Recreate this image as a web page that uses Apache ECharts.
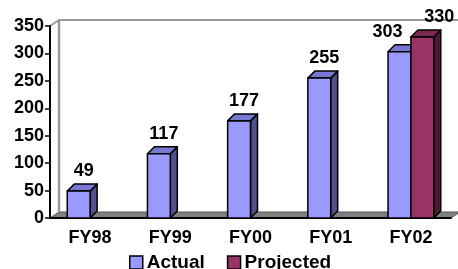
<!DOCTYPE html>
<html>
<head>
<meta charset="utf-8">
<script src="https://cdn.jsdelivr.net/npm/echarts@6/dist/echarts.min.js"></script>
<style>
  html, body { margin: 0; padding: 0; background: #fff; }
  #chart { width: 458px; height: 269px; }
</style>
</head>
<body>
<div id="chart"></div>
<script>
// === Data
const categories = ['FY98', 'FY99', 'FY00', 'FY01', 'FY02'];
const actualValues = [49, 117, 177, 255, 303];
const projectedValues = [null, null, null, null, 330];
const yTicks = { min: 0, max: 350, interval: 50 };

const FONT = 'Liberation Sans, Arial, sans-serif';
const DX = 7, DY = -7;       // bar depth
const WX = 9, WY = -6;       // wall depth

const colors = {
    Actual: { front: '#9999FF', side: '#50508C', top: '#7878D2' },
    Projected: { front: '#993366', side: '#4C1A33', top: '#7A2952' }
};

function toPairs(values) {
    return values
        .map((v, i) => (v == null ? null : [i, v]))
        .filter(Boolean);
}

// 3D-looking bar drawn from the axis scale
function makeBarRenderer(name, slot) {
    const c = colors[name];
    return function (params, api) {
        const idx = api.value(0);
        const val = api.value(1);
        const top = api.coord([idx, val]);
        const base = api.coord([idx, 0]);
        const band = api.size([1, 0])[0];
        const w = band * 0.285;
        const x0 = slot === 0 ? top[0] - w : top[0];
        const x1 = x0 + w;
        const yt = top[1];
        const yb = base[1];
        const stroke = { stroke: '#000', lineWidth: 1.5, lineJoin: 'round' };

        const both = actualValues[idx] != null && projectedValues[idx] != null;
        let lx = (x0 + x1) / 2 + 5;
        if (both) lx = slot === 0 ? (x0 + x1) / 2 - 12 : (x0 + x1) / 2 + 17;

        return {
            type: 'group',
            children: [
                {
                    type: 'polygon',
                    shape: { points: [[x1, yb], [x1 + DX, yb + DY], [x1 + DX, yt + DY], [x1, yt]] },
                    style: Object.assign({ fill: c.side }, stroke)
                },
                {
                    type: 'polygon',
                    shape: { points: [[x0, yt], [x0 + DX, yt + DY], [x1 + DX, yt + DY], [x1, yt]] },
                    style: Object.assign({ fill: c.top }, stroke)
                },
                {
                    type: 'rect',
                    shape: { x: x0, y: yt, width: w, height: yb - yt },
                    style: Object.assign({ fill: c.front }, stroke)
                },
                {
                    type: 'text',
                    style: {
                        x: lx, y: yt + DY - 13,
                        text: String(val),
                        fill: '#000',
                        font: 'bold 18px ' + FONT,
                        align: 'center',
                        verticalAlign: 'middle'
                    }
                }
            ]
        };
    };
}

// back wall and floor
function renderWalls(params) {
    const cs = params.coordSys;
    const x = cs.x, y = cs.y, w = cs.width, h = cs.height;
    return {
        type: 'group',
        children: [
            {
                type: 'polygon',
                shape: { points: [[x, y + h], [x + w, y + h], [x + w + WX, y + h + WY], [x + WX, y + h + WY]] },
                style: { fill: '#808080', stroke: '#555', lineWidth: 1 }
            },
            {
                type: 'polyline',
                shape: { points: [[x, y], [x + WX, y + WY], [x + w + WX, y + WY]] },
                style: { fill: null, stroke: '#999', lineWidth: 2 }
            },
            {
                type: 'line',
                shape: { x1: x + WX, y1: y + WY, x2: x + WX, y2: y + h + WY },
                style: { stroke: '#999', lineWidth: 2.5 }
            }
        ]
    };
}

const chart = echarts.init(document.getElementById('chart'), null, { renderer: 'canvas' });

chart.setOption({
    animation: false,
    grid: { left: 50, right: 7, top: 26, bottom: 51 },
    legend: {
        data: ['Actual', 'Projected'],
        left: 124,
        top: 248,
        icon: 'rect',
        itemWidth: 13,
        itemHeight: 13,
        itemGap: 22,
        itemStyle: { borderColor: '#000', borderWidth: 1.5 },
        textStyle: { fontFamily: FONT, fontWeight: 'bold', fontSize: 19, color: '#000', padding: [0, 0, 0, -1] }
    },
    xAxis: {
        type: 'category',
        data: categories,
        axisLine: { lineStyle: { color: '#000', width: 2 } },
        axisTick: { length: 5, lineStyle: { color: '#000', width: 1.5 } },
        axisLabel: { margin: 11, color: '#000', fontFamily: FONT, fontWeight: 'bold', fontSize: 18 }
    },
    yAxis: {
        type: 'value',
        min: yTicks.min,
        max: yTicks.max,
        interval: yTicks.interval,
        axisLine: { show: true, lineStyle: { color: '#000', width: 2 } },
        axisTick: { show: true, length: 5, lineStyle: { color: '#000', width: 1.5 } },
        splitLine: { show: false },
        axisLabel: { margin: 6, color: '#000', fontFamily: FONT, fontWeight: 'bold', fontSize: 18 }
    },
    series: [
        {
            name: 'walls',
            type: 'custom',
            z: -1,
            silent: true,
            renderItem: renderWalls,
            data: [[0, 0]]
        },
        {
            name: 'Actual',
            type: 'custom',
            itemStyle: { color: colors.Actual.front },
            renderItem: makeBarRenderer('Actual', 0),
            data: toPairs(actualValues)
        },
        {
            name: 'Projected',
            type: 'custom',
            itemStyle: { color: colors.Projected.front },
            renderItem: makeBarRenderer('Projected', 1),
            data: toPairs(projectedValues)
        }
    ]
});
</script>
</body>
</html>
